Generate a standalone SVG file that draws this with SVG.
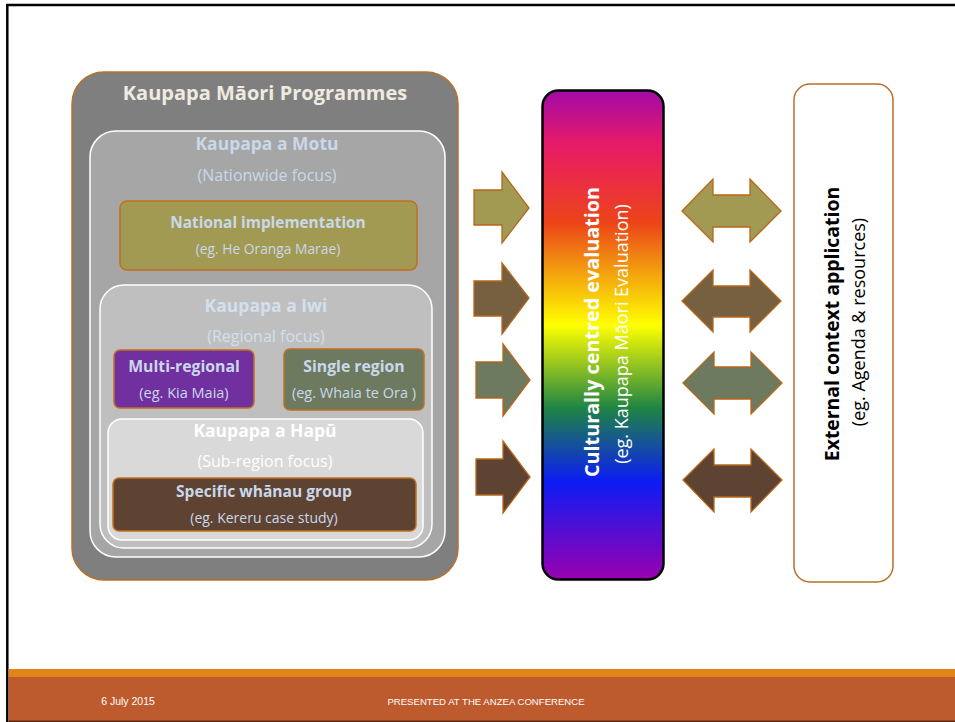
<svg xmlns="http://www.w3.org/2000/svg" width="955" height="722" viewBox="0 0 955 722">
<defs>
<style>
text{font-family:"Open Sans","Noto Sans","Liberation Sans",sans-serif;text-anchor:middle}
.b{font-weight:bold}
.lb{fill:#c9d8ea}
.w{fill:#ffffff}
.box{stroke:#c0701e;stroke-width:1.5}
.arr{stroke:#b8661a;stroke-width:1.3}
</style>
<linearGradient id="rb" x1="0" y1="0" x2="0" y2="1">
<stop offset="0" stop-color="#a20aa8"/>
<stop offset="0.11" stop-color="#e81a68"/>
<stop offset="0.27" stop-color="#ec4418"/>
<stop offset="0.34" stop-color="#f08412"/>
<stop offset="0.48" stop-color="#ffff00"/>
<stop offset="0.65" stop-color="#1e8444"/>
<stop offset="0.80" stop-color="#0c1cf4"/>
<stop offset="1" stop-color="#9a00b0"/>
</linearGradient>
</defs>
<rect x="0" y="0" width="955" height="722" fill="#ffffff"/>
<!-- slide frame -->
<line x1="6" y1="5" x2="955" y2="5" stroke="#000" stroke-width="2.5"/>
<line x1="7.3" y1="4" x2="7.3" y2="722" stroke="#000" stroke-width="2.5"/>
<!-- footer -->
<g id="footer">
<rect x="8.5" y="669" width="946.5" height="8" fill="#e2841a"/>
<rect x="8.5" y="677" width="946.5" height="44" fill="#bd5a2e"/>
<rect x="8.5" y="720.5" width="946.5" height="1.5" fill="#5a2a14"/>
<text x="128" y="705" class="w" style="font-family:'Liberation Sans',sans-serif;font-size:10.5px">6 July 2015</text>
<text x="486" y="705" class="w" style="font-family:'Liberation Sans',sans-serif;font-size:9.6px">PRESENTED AT THE ANZEA CONFERENCE</text>
</g>
<!-- left nested boxes -->
<g id="kaupapa-maori">
<rect x="72" y="72" width="386" height="508" rx="32" fill="#7f7f7f" stroke="#b8702a" stroke-width="1.5"/>
<text x="265" y="100" class="b" style="font-size:20px;fill:#efebe0">Kaupapa Māori Programmes</text>
</g>
<g id="motu">
<rect x="90" y="131" width="355" height="426" rx="26" fill="#a6a6a6" stroke="#ffffff" stroke-width="1.5"/>
<text x="267" y="150" class="b lb" style="font-size:17.5px">Kaupapa a Motu</text>
<text x="267" y="181" class="lb" style="font-size:16px">(Nationwide focus)</text>
</g>
<g id="national">
<rect x="120" y="201" width="297" height="69" rx="7" fill="#a29a52" class="box"/>
<text x="268" y="228" class="b lb" style="font-size:15.4px">National implementation</text>
<text x="268" y="254" class="lb" style="font-size:13.8px">(eg. He Oranga Marae)</text>
</g>
<g id="iwi">
<rect x="100" y="285" width="332" height="263" rx="24" fill="#bfbfbf" stroke="#ffffff" stroke-width="1.5"/>
<text x="266" y="312" class="b" style="font-size:17.5px;fill:#d3e0ee">Kaupapa a Iwi</text>
<text x="266" y="342" style="font-size:16px;fill:#d3e0ee">(Regional focus)</text>
</g>
<g id="multi-regional">
<rect x="114" y="350" width="140" height="58" rx="6" fill="#7030a0" class="box"/>
<text x="184" y="372" class="b lb" style="font-size:15.8px">Multi-regional</text>
<text x="184" y="398" class="lb" style="font-size:14.5px">(eg. Kia Maia)</text>
</g>
<g id="single-region">
<rect x="284" y="349" width="140" height="61" rx="6" fill="#6e7a60" class="box"/>
<text x="354" y="372" class="b lb" style="font-size:15.8px">Single region</text>
<text x="354" y="398" class="lb" style="font-size:14.5px">(eg. Whaia te Ora )</text>
</g>
<g id="hapu">
<rect x="108" y="419" width="315" height="121" rx="14" fill="#d9d9d9" stroke="#ffffff" stroke-width="1.5"/>
<text x="265" y="437" class="b w" style="font-size:17.5px">Kaupapa a Hapū</text>
<text x="265" y="467" class="w" style="font-size:16px">(Sub-region focus)</text>
</g>
<g id="whanau">
<rect x="113" y="478" width="303" height="53" rx="6" fill="#5e4232" class="box"/>
<text x="264" y="497" class="b lb" style="font-size:15.6px">Specific whānau group</text>
<text x="264" y="523" class="lb" style="font-size:14px">(eg. Kereru case study)</text>
</g>
<!-- rainbow -->
<g id="evaluation">
<rect x="542.5" y="90.5" width="121" height="489" rx="16" fill="url(#rb)" stroke="#000" stroke-width="2.5"/>
<text transform="translate(599,332) rotate(-90)" class="b w" style="font-size:19.8px">Culturally centred evaluation</text>
<text transform="translate(628,334) rotate(-90)" class="w" style="font-size:18px">(eg. Kaupapa Māori Evaluation)</text>
</g>
<!-- external -->
<g id="external">
<rect x="794" y="84" width="99" height="498" rx="16" fill="#ffffff" stroke="#b8702a" stroke-width="1.5"/>
<text transform="translate(839,324) rotate(-90)" class="b" style="font-size:19.4px;fill:#000">External context application</text>
<text transform="translate(865,322) rotate(-90)" style="font-size:18px;fill:#000">(eg. Agenda &amp; resources)</text>
</g>
<!-- connectors -->
<g id="connectors">
<polygon class="arr" fill="#a29a52" points="474,190 502,190 502,172 529,208 502,243 502,225 474,225"/>
<polygon class="arr" fill="#766040" points="474,281 502,281 502,263 529,298 502,334 502,316 474,316"/>
<polygon class="arr" fill="#6e7a60" points="476,362 503,362 503,344 530,380 503,416 503,398 476,398"/>
<polygon class="arr" fill="#5e4232" points="476,459 503,459 503,441 530,477 503,513 503,495 476,495"/>
<polygon class="arr" fill="#a29a52" points="682,211 713,179 713,195 750,195 750,179 781,211 750,242 750,227 713,227 713,242"/>
<polygon class="arr" fill="#766040" points="682,301 713,270 713,286 750,286 750,270 781,301 750,332 750,317 713,317 713,332"/>
<polygon class="arr" fill="#6e7a60" points="683,383 714,352 714,367 751,367 751,352 782,383 751,414 751,399 714,399 714,414"/>
<polygon class="arr" fill="#5e4232" points="683,480 714,449 714,465 751,465 751,449 782,480 751,512 751,497 714,497 714,512"/>
</g>
</svg>
